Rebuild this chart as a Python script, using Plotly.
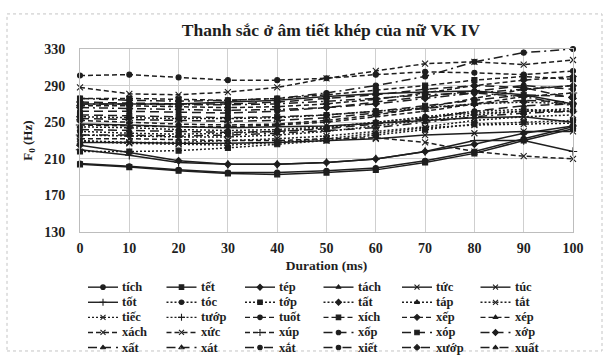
import plotly.graph_objects as go

# ---------------- data ----------------
time_ms = [0, 10, 20, 30, 40, 50, 60, 70, 80, 90, 100]

syllables = ["tích", "tết", "tép", "tách", "tức", "túc",
             "tốt", "tóc", "tớp", "tất", "táp", "tắt",
             "tiếc", "tướp", "tuốt", "xích", "xếp", "xép",
             "xách", "xức", "xúp", "xốp", "xóp", "xớp",
             "xất", "xát", "xắt", "xiết", "xướp", "xuất"]

f0_tich = [205, 202, 198, 195, 195, 197, 200, 208, 218, 232, 245]
f0_tet = [204, 201, 197, 194, 193, 195, 198, 206, 216, 230, 243]
f0_tep = [225, 217, 208, 204, 204, 206, 210, 218, 226, 238, 246]
f0_tach = [270, 270, 270, 272, 274, 278, 281, 283, 284, 280, 270]
f0_tuc1 = [228, 228, 227, 227, 228, 230, 232, 236, 238, 240, 240]
f0_tuc2 = [248, 247, 245, 244, 245, 246, 249, 252, 255, 256, 250]
f0_tot = [220, 214, 206, 204, 204, 206, 210, 218, 230, 230, 218]
f0_toc = [240, 238, 237, 238, 240, 244, 250, 256, 262, 264, 262]
f0_top = [218, 218, 219, 222, 226, 230, 236, 242, 248, 250, 252]
f0_tat1 = [256, 255, 254, 254, 255, 258, 262, 266, 270, 272, 270]
f0_tap = [245, 244, 242, 241, 242, 245, 250, 255, 260, 262, 265]
f0_tat2 = [229, 227, 226, 225, 228, 232, 238, 244, 247, 248, 249]
f0_tiec = [230, 228, 228, 230, 232, 235, 240, 245, 252, 256, 258]
f0_tuop = [236, 235, 234, 234, 236, 240, 246, 252, 258, 262, 262]
f0_tuot = [301, 302, 299, 296, 296, 298, 302, 305, 304, 302, 306]
f0_xich = [276, 276, 275, 274, 276, 280, 285, 290, 296, 300, 297]
f0_xep1 = [268, 268, 267, 266, 267, 270, 275, 282, 290, 296, 300]
f0_xep2 = [252, 250, 248, 247, 248, 252, 258, 266, 276, 286, 290]
f0_xach = [288, 281, 280, 283, 288, 298, 306, 314, 316, 313, 318]
f0_xuc = [232, 232, 231, 230, 230, 232, 233, 228, 218, 213, 210]
f0_xup = [247, 246, 245, 245, 247, 250, 256, 262, 270, 278, 282]
f0_xop1 = [262, 262, 261, 260, 262, 266, 272, 278, 284, 290, 286]
f0_xop2 = [258, 257, 256, 255, 256, 258, 262, 268, 274, 280, 278]
f0_xop3 = [272, 271, 270, 270, 272, 276, 280, 286, 290, 288, 276]
f0_xat1 = [242, 241, 240, 239, 240, 243, 248, 254, 262, 268, 270]
f0_xat2 = [254, 253, 252, 251, 252, 255, 260, 265, 270, 274, 272]
f0_xat3 = [276, 274, 273, 274, 276, 282, 290, 300, 316, 326, 330]
f0_xiet = [270, 270, 269, 269, 270, 273, 276, 280, 282, 278, 268]
f0_xuop = [266, 265, 264, 263, 264, 266, 270, 276, 282, 286, 290]
f0_xuat = [236, 236, 235, 236, 238, 241, 244, 250, 256, 260, 262]

series = [f0_tich, f0_tet, f0_tep, f0_tach, f0_tuc1, f0_tuc2,
          f0_tot, f0_toc, f0_top, f0_tat1, f0_tap, f0_tat2,
          f0_tiec, f0_tuop, f0_tuot, f0_xich, f0_xep1, f0_xep2,
          f0_xach, f0_xuc, f0_xup, f0_xop1, f0_xop2, f0_xop3,
          f0_xat1, f0_xat2, f0_xat3, f0_xiet, f0_xuop, f0_xuat]

# ---------------- styles ----------------
SOLID = "solid"
DOT = "2px,2px"
DASH = "5px,3px"
LDASH = "9px,5px"
LDD = "9px,4px,2px,4px"

styles = [
    (SOLID, "circle"), (SOLID, "square"), (SOLID, "diamond"), (SOLID, "triangle-up"), (SOLID, "x-thin-open"), (SOLID, "x-thin-open"),
    (SOLID, "cross-thin-open"), (DOT, "circle"), (DOT, "square"), (DOT, "diamond"), (DOT, "triangle-up"), (DOT, "x-thin-open"),
    (DOT, "x-thin-open"), (DOT, "cross-thin-open"), (DASH, "circle"), (DASH, "square"), (DASH, "diamond"), (DASH, "triangle-up"),
    (DASH, "x-thin-open"), (DASH, "x-thin-open"), (DASH, "cross-thin-open"), (LDASH, "circle"), (LDASH, "square"), (LDASH, "diamond"),
    (LDASH, "triangle-up"), (LDASH, "triangle-up-open"), (LDD, "circle"), (LDD, "circle"), (LDD, "diamond"), (LDD, "triangle-up"),
]

INK = "#1e1e1e"
FONT = "Liberation Serif"

W, H = 609, 363
ML, MR, MT, MB = 80, 36, 49, 5
PW = W - ML - MR
PH = H - MT - MB
main_bottom_px = 237
main_dom0 = (H - MB - main_bottom_px) / PH
leg_dom = [0, 0.33]


def marker_for(sym, size):
    return dict(symbol=sym, size=size, color=INK, line=dict(color=INK, width=1.1))


fig = go.Figure()

for name, ys, (dash, sym) in zip(syllables, series, styles):
    fig.add_trace(go.Scatter(
        x=time_ms, y=ys, name=name, mode="lines+markers",
        line=dict(color=INK, width=1.5, dash=dash),
        marker=marker_for(sym, 6 if sym.endswith("open") else 5),
        cliponaxis=False, showlegend=False,
    ))

# ---------------- manual legend (pixel-mapped helper axes) ----------------
col_x0 = 88
col_step = 78.5
row_y0 = 293.5
row_step = 15.5
sample_len = 30
annotations = []
for i, (name, (dash, sym)) in enumerate(zip(syllables, styles)):
    c, r = i % 6, i // 6
    x0 = col_x0 + c * col_step
    yy = row_y0 + r * row_step
    fig.add_trace(go.Scatter(
        x=[x0, x0 + sample_len / 2, x0 + sample_len], y=[yy, yy, yy],
        mode="lines", line=dict(color=INK, width=1.4, dash=dash),
        xaxis="x2", yaxis="y2", showlegend=False, hoverinfo="skip",
        cliponaxis=False,
    ))
    fig.add_trace(go.Scatter(
        x=[x0 + sample_len / 2], y=[yy], mode="markers",
        marker=marker_for(sym, 5 if sym.endswith("open") else 4.5),
        xaxis="x2", yaxis="y2", showlegend=False, hoverinfo="skip",
        cliponaxis=False,
    ))
    annotations.append(dict(
        x=x0 + sample_len + 2, y=yy, xref="x2", yref="y2", text="<b>%s</b>" % name,
        showarrow=False, xanchor="left", yanchor="middle",
        font=dict(family=FONT, size=12.5, color=INK),
    ))

fig.update_layout(
    width=W, height=H,
    margin=dict(l=ML, r=MR, t=MT, b=MB),
    paper_bgcolor="white", plot_bgcolor="white",
    title=dict(text="<b>Thanh sắc ở âm tiết khép của nữ VK IV</b>",
               x=331 / W, xref="container", xanchor="center",
               y=1 - 30 / H, yref="container", yanchor="middle",
               font=dict(family=FONT, size=17.5, color=INK)),
    xaxis=dict(domain=[0, 1], range=[0, 100], dtick=10, tick0=0,
               showgrid=True, gridcolor="#cfcfcf", gridwidth=1,
               showline=True, linecolor="#bdbdbd", mirror=True, zeroline=False,
               ticks="", ticklabelstandoff=3,
               tickfont=dict(family=FONT, size=14, color=INK, weight="bold"),
               title=dict(text="<b>Duration (ms)</b>", standoff=5,
                          font=dict(family=FONT, size=13.5, color=INK))),
    yaxis=dict(domain=[main_dom0, 1], range=[130, 330], dtick=40, tick0=130,
               showgrid=True, gridcolor="#cfcfcf", gridwidth=1,
               showline=True, linecolor="#bdbdbd", mirror=True, zeroline=False,
               ticks="", ticklabelstandoff=11,
               tickfont=dict(family=FONT, size=14, color=INK, weight="bold"),
               title=dict(text="<b>F<sub>0</sub> (Hz)</b>", standoff=8,
                          font=dict(family=FONT, size=13, color=INK))),
    xaxis2=dict(domain=[0, 1], range=[ML, W - MR], anchor="y2", visible=False,
                fixedrange=True),
    yaxis2=dict(domain=leg_dom, range=[H - MB, H - MB - leg_dom[1] * PH],
                anchor="x2", visible=False, fixedrange=True),
    annotations=annotations,
    shapes=[dict(type="rect", xref="paper", yref="paper",
                 x0=(7 - ML) / PW, x1=(602 - ML) / PW,
                 y0=(H - MB - 359) / PH, y1=(H - MB - 13) / PH,
                 line=dict(color="#c4c4c4", width=1, dash="dot"))],
    showlegend=False,
)

fig.write_html("out.html")
